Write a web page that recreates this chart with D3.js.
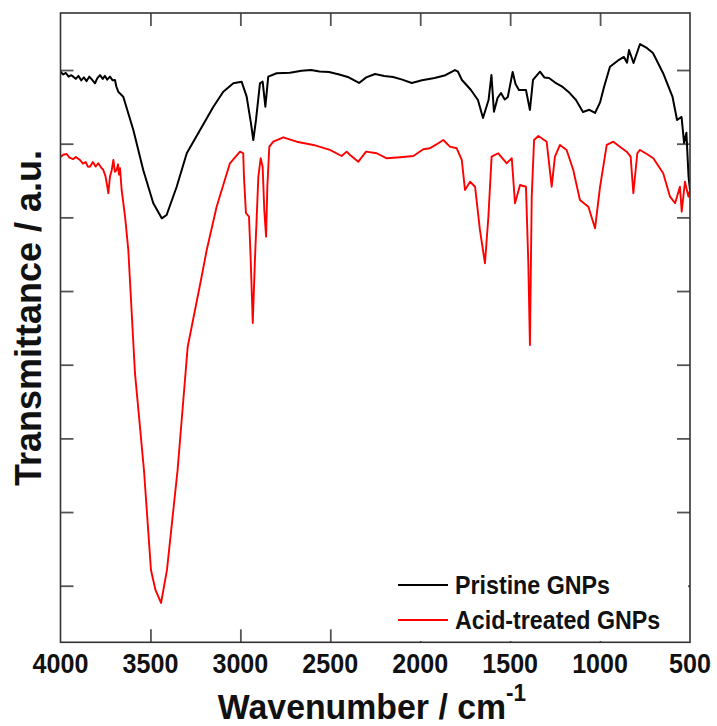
<!DOCTYPE html>
<html>
<head>
<meta charset="utf-8">
<script src="https://cdn.jsdelivr.net/npm/d3@7"></script>
<style>
  html, body { margin: 0; padding: 0; background: #fff; }
  svg { display: block; font-family: "Liberation Sans", Arial, sans-serif; }
</style>
</head>
<body>
<svg id="chart" width="717" height="726"></svg>
<script>
// ---- data ----
const seriesNames = ["Pristine GNPs", "Acid-treated GNPs"];
const seriesColors = ["#000000", "#ff0000"];
const xTickValues = [4000, 3500, 3000, 2500, 2000, 1500, 1000, 500];
const yTickValues = [10, 20, 30, 40, 50, 60, 70, 80];

const pristineWn = [4000,3985,3970,3955,3940,3929,3915,3900,3885,3870,
  3855,3840,3825,3808,3795,3780,3765,3753,3740,3725,
  3710,3697,3690,3679,3651,3595,3540,3484,3437,3410,
  3354,3298,3224,3150,3095,3039,2993,2965,2941,2928,
  2913,2891,2876,2861,2845,2798,2724,2660,2607,2560,
  2507,2450,2403,2340,2300,2251,2200,2151,2100,2047,
  1990,1920,1860,1807,1790,1768,1740,1718,1679,1651,
  1620,1604,1590,1570,1551,1530,1513,1486,1470,1451,
  1412,1390,1373,1334,1310,1284,1250,1208,1170,1134,
  1095,1060,1028,1000,978,945,900,867,850,839,
  814,778,740,706,650,597,572,547,533,520,
  508,500];
const pristineT = [79.77,79.4,79.6,79.1,79.3,79.1,78.8,79.2,78.6,79.0,
  78.5,79.1,78.7,78.2,78.9,79.3,78.8,79.2,78.7,79.1,
  78.6,78.65,77.8,77.06,76.38,71.86,66.43,61.91,59.87,60.32,
  64.16,68.70,71.86,75.02,77.06,78.20,78.42,76.38,72.77,70.50,
  73.22,78.20,78.42,75.02,79.10,79.56,79.64,79.9,80.00,79.8,
  79.73,79.4,79.06,78.24,79.0,79.46,79.2,79.06,78.7,78.24,
  78.6,78.92,79.3,80.00,79.77,78.65,77.9,77.29,75.93,73.49,
  75.93,79.33,74.34,76.2,76.88,76.0,76.34,79.73,78.1,77.29,
  77.29,74.58,78.65,79.77,79.0,78.92,78.3,77.70,76.9,75.93,
  74.30,74.6,74.17,75.6,77.70,80.45,81.3,81.77,81.0,82.72,
  80.95,83.53,83.0,82.31,79.60,76.34,73.22,73.63,70.10,71.5,
  65.48,63.72];

const acidWn = [4000,3985,3966,3950,3930,3915,3892,3875,3860,3848,
  3836,3820,3805,3790,3775,3762,3750,3740,3734,3725,
  3715,3706,3698,3688,3680,3675,3669,3660,3641,3623,
  3586,3536,3497,3472,3441,3408,3349,3293,3219,3187,
  3132,3058,3002,2984,2980,2969,2952,2943,2931,2919,
  2909,2900,2887,2876,2867,2857,2850,2839,2817,2761,
  2687,2594,2502,2437,2409,2390,2344,2301,2242,2186,
  2112,2038,1983,1946,1910,1872,1835,1797,1769,1751,
  1723,1695,1668,1640,1621,1603,1566,1519,1491,1473,
  1445,1412,1399,1390,1380,1367,1343,1297,1269,1251,
  1223,1186,1149,1112,1065,1028,1000,963,926,890,
  852,830,815,793,778,740,704,649,611,583,
  556,546,528,509,500];
const acidT = [68.2,68.5,68.6,68.1,67.9,68.2,67.79,67.3,67.5,66.9,
  66.88,67.5,66.9,67.34,66.8,66.43,65.6,64.2,63.27,65.5,
  66.43,67.79,66.2,66.43,67.2,65.8,66.66,63.72,60.09,55.57,
  38.88,25.71,12.14,9.42,7.66,12.14,25.71,42.40,51.50,55.57,
  61.45,67.34,68.92,68.70,65.52,60.59,60.09,54.66,45.66,54.21,
  60.09,65.52,68.02,66.88,61.00,57.38,64.16,69.59,70.27,70.87,
  70.27,69.83,69.15,68.33,68.92,68.47,67.56,68.92,68.70,68.02,
  68.16,68.33,69.24,69.38,69.9,70.50,69.6,69.38,67.79,63.72,
  64.84,64.16,58.29,53.77,60.09,68.24,68.70,67.34,68.02,61.91,
  64.39,64.16,53.81,42.68,62.81,70.50,71.05,70.27,64.16,68.24,
  69.83,69.15,66.43,62.36,61.45,58.52,64.16,69.83,70.27,69.6,
  68.92,68.24,63.27,68.70,69.15,68.6,68.02,65.98,62.81,61.91,
  64.16,60.77,64.84,62.81,63.72];

// ---- layout ----
const plot = { left: 60.5, right: 690, top: 13, bottom: 642.3 };

const svg = d3.select("#chart");
const x = d3.scaleLinear().domain([4000, 500]).range([plot.left, plot.right]);
const y = d3.scaleLinear().domain([2.32, 87.74]).range([plot.bottom, plot.top]);

svg.append("defs").append("clipPath").attr("id", "clip")
  .append("rect").attr("x", plot.left).attr("y", plot.top)
  .attr("width", plot.right - plot.left).attr("height", plot.bottom - plot.top);

// ticks (inward, all four sides)
const tickLen = 13;
const tickColor = "#555";
const innerX = xTickValues.filter(v => v !== 4000 && v !== 500);
function styleTicks(g) {
  g.select(".domain").remove();
  g.selectAll("line").attr("stroke", tickColor).attr("stroke-width", 1.8);
}
svg.append("g").attr("transform", `translate(0,${plot.bottom})`)
  .call(d3.axisTop(x).tickValues(innerX).tickSize(tickLen).tickFormat("")).call(styleTicks);
svg.append("g").attr("transform", `translate(0,${plot.top})`)
  .call(d3.axisBottom(x).tickValues(innerX).tickSize(tickLen).tickFormat("")).call(styleTicks);
svg.append("g").attr("transform", `translate(${plot.left},0)`)
  .call(d3.axisRight(y).tickValues(yTickValues).tickSize(tickLen).tickFormat("")).call(styleTicks);
svg.append("g").attr("transform", `translate(${plot.right},0)`)
  .call(d3.axisLeft(y).tickValues(yTickValues).tickSize(tickLen).tickFormat("")).call(styleTicks);

// x tick labels
svg.append("g").selectAll("text").data(xTickValues).join("text")
  .attr("transform", d => `translate(${x(d)},673) scale(0.93,1)`)
  .attr("text-anchor", "middle")
  .attr("font-size", 27).attr("font-weight", "bold").attr("fill", "#111")
  .text(d => d);

// lines
const series = [
  { name: seriesNames[0], color: seriesColors[0], pts: pristineWn.map((w, i) => [w, pristineT[i]]), width: 2 },
  { name: seriesNames[1], color: seriesColors[1], pts: acidWn.map((w, i) => [w, acidT[i]]), width: 1.9 }
];
const line = d3.line().x(d => x(d[0])).y(d => y(d[1]));
svg.append("g").attr("clip-path", "url(#clip)").selectAll("path").data(series).join("path")
  .attr("d", d => line(d.pts))
  .attr("fill", "none").attr("stroke", d => d.color).attr("stroke-width", d => d.width)
  .attr("stroke-linejoin", "round");

// legend (white background hides ticks)
const lg = svg.append("g");
lg.append("rect").attr("x", 392).attr("y", 566).attr("width", 296).attr("height", 75).attr("fill", "#fff");
series.forEach((s, i) => {
  const yy = 585 + i * 35;
  lg.append("line").attr("x1", 398).attr("x2", 448).attr("y1", yy).attr("y2", yy)
    .attr("stroke", s.color).attr("stroke-width", 2);
  lg.append("text").attr("transform", `translate(455,${yy + 9}) scale(0.93,1)`)
    .attr("font-size", 25).attr("font-weight", "bold").attr("fill", "#111")
    .text(s.name);
});

// frame
svg.append("rect").attr("x", plot.left).attr("y", plot.top)
  .attr("width", plot.right - plot.left).attr("height", plot.bottom - plot.top)
  .attr("fill", "none").attr("stroke", "#333").attr("stroke-width", 1.6);

// axis titles
const xt = svg.append("text").attr("transform", "translate(372,719) scale(0.94,1)")
  .attr("text-anchor", "middle").attr("font-size", 36).attr("font-weight", "bold").attr("fill", "#111");
xt.append("tspan").text("Wavenumber / cm");
xt.append("tspan").attr("dy", -18).attr("font-size", 24).text("-1");

svg.append("text").attr("transform", "translate(41,318) rotate(-90)")
  .attr("text-anchor", "middle").attr("font-size", 36).attr("font-weight", "bold").attr("fill", "#111")
  .text("Transmittance / a.u.");
</script>
</body>
</html>
